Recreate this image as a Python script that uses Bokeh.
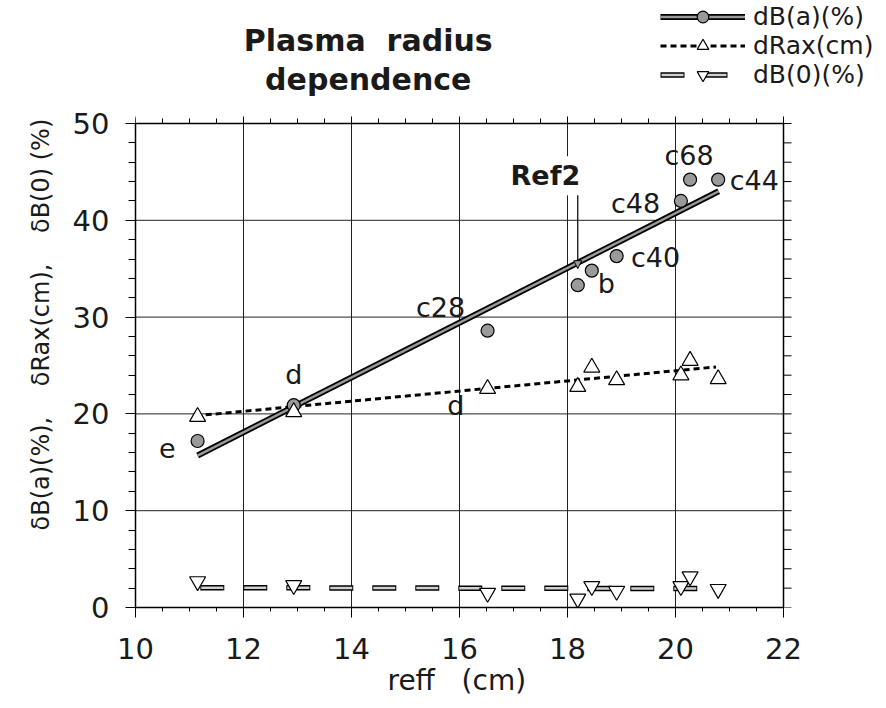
import numpy as np
from bokeh.plotting import figure
from bokeh.models import (Label, Legend, LegendItem, Arrow, NormalHead, Title,
                          Range1d, FixedTicker, ColumnDataSource)
from bokeh.embed import file_html
from bokeh.resources import INLINE

# Field errors versus effective plasma radius, one entry per configuration
config = ["e", "d", "c28", "Ref2", "b", "c40", "c48", "c68", "c44"]
reff = [11.15, 12.93, 16.52, 18.19, 18.45, 18.91, 20.10, 20.27, 20.79]
dB_a = [17.2, 20.9, 28.6, 33.3, 34.8, 36.3, 42.0, 44.2, 44.2]
dRax = [19.7, 20.2, 22.6, 22.8, 24.8, 23.5, 24.0, 25.5, 23.6]
dB_0 = [2.7, 2.3, 1.5, 0.9, 2.2, 1.7, 2.2, 3.2, 1.9]

# Straight-line fits, given by their end points
fit_dB_a_x = [11.15, 20.80]
fit_dB_a_y = [15.7, 43.0]
fit_dRax_x = [11.30, 20.75]
fit_dRax_y = [19.9, 24.85]
fit_dB_0_x = [11.20, 20.80]
fit_dB_0_y = [2.05, 1.95]

# Configuration tags written next to the points
tag_text = ["e", "d", "d", "c28", "b", "c40", "c48", "c68", "c44"]
tag_x = [10.59, 12.93, 15.93, 15.65, 18.72, 19.63, 19.26, 20.25, 21.46]
tag_y = [16.5, 24.1, 20.9, 31.0, 33.5, 36.2, 41.7, 46.7, 44.1]

x_major = [10, 12, 14, 16, 18, 20, 22]
y_major = [0, 10, 20, 30, 40, 50]
x_minor = [10 + 0.5 * i for i in range(25)]
y_minor = list(range(0, 51, 2))

FONT = "DejaVu Sans"
INK = "#1a1a1a"
GREY = "#9a9a9a"
NB = "\u00a0"   # non-collapsing space for the wide word gaps

X0, X1 = x_major[0], x_major[-1]
Y0, Y1 = y_major[0], y_major[-1]
PX_PER_X = 648 / (X1 - X0)          # horizontal scale of the data box
PX_PER_Y = 484 / (Y1 - Y0)          # vertical scale of the data box
X_RIGHT = X1 + 103 / PX_PER_X       # room right of the box for the legend
Y_TOP = Y1 + 123 / PX_PER_Y         # headroom above the box for title and legend

p = figure(width=886, height=708, x_range=Range1d(X0, X_RIGHT), y_range=Range1d(Y0, Y_TOP),
           output_backend="svg", toolbar_location=None,
           min_border_left=135, min_border_right=0, min_border_top=0,
           min_border_bottom=101, background_fill_color="white",
           border_fill_color="white")
p.outline_line_color = None
p.xgrid.visible = False
p.ygrid.visible = False

xt = FixedTicker(ticks=x_major, minor_ticks=x_minor)
yt = FixedTicker(ticks=y_major, minor_ticks=y_minor)


def style_ticks(ax, major_out, minor_out):
    ax.axis_line_color = "black"
    ax.axis_line_width = 1.5
    ax.major_tick_line_color = "black"
    ax.minor_tick_line_color = "black"
    ax.major_tick_in = 0
    ax.major_tick_out = major_out
    ax.minor_tick_in = 0
    ax.minor_tick_out = minor_out
    ax.major_tick_line_width = 1
    ax.minor_tick_line_width = 1
    ax.major_label_text_font = FONT
    ax.major_label_text_font_size = "29px"
    ax.major_label_text_color = INK


xa = p.xaxis[0]
xa.ticker = xt
xa.bounds = (X0, X1)
style_ticks(xa, 10, 4)
xa.major_label_standoff = 20

ya = p.yaxis[0]
ya.ticker = yt
ya.bounds = (Y0, Y1)
style_ticks(ya, 10, 7)
ya.major_label_standoff = 16

# axis titles, placed along the box sides
p.add_layout(Title(text="reff" + NB + " " + NB + "(cm)", align="left", offset=252, standoff=0,
                   text_font=FONT, text_font_size="28px", text_font_style="normal",
                   text_color=INK), "below")
ylab = ("\u03b4B(a)(%)," + NB * 3 + " \u03b4Rax(cm)," + NB * 3 + " \u03b4B(0) (%)")
p.add_layout(Title(text=ylab, align="left", offset=77, standoff=29,
                   text_font=FONT, text_font_size="24px", text_font_style="normal",
                   text_color=INK), "left")

# grid lines at the major ticks
p.segment(x0=x_major[1:-1], y0=Y0, x1=x_major[1:-1], y1=Y1, line_color="#222222", line_width=1)
p.segment(x0=X0, y0=y_major[1:-1], x1=X1, y1=y_major[1:-1], line_color="#222222", line_width=1)

# box edges: right and top
p.segment(x0=[X1, X0], y0=[Y0, Y1], x1=[X1, X1], y1=[Y1, Y1], line_color="black", line_width=1.5)

# outward tick marks along the top and right edges
p.segment(x0=x_major, y0=Y1, x1=x_major, y1=Y1 + 7 / PX_PER_Y, line_color="black", line_width=1)
p.segment(x0=x_minor, y0=Y1, x1=x_minor, y1=Y1 + 5 / PX_PER_Y, line_color="black", line_width=1)
p.segment(x0=X1, y0=y_minor, x1=X1 + 8 / PX_PER_X, y1=y_minor, line_color="black", line_width=1)

# fit lines: dark outline with a grey core
a_out = p.line(fit_dB_a_x, fit_dB_a_y, line_color="black", line_width=6)
a_in = p.line(fit_dB_a_x, fit_dB_a_y, line_color=GREY, line_width=2.5)
r_line = p.line(fit_dRax_x, fit_dRax_y, line_color="black", line_width=3, line_dash="6 4")
z_out = p.line(fit_dB_0_x, fit_dB_0_y, line_color="black", line_width=5.5, line_dash="24 19")
z_in = p.line(fit_dB_0_x, fit_dB_0_y, line_color="#d0d0d0", line_width=2.5, line_dash="22 21",
              line_dash_offset=-1)

src = ColumnDataSource(dict(reff=reff, dB_a=dB_a, dRax=dRax, dB_0=dB_0, config=config))
a_pts = p.scatter("reff", "dB_a", source=src, marker="circle", size=13,
                  fill_color=GREY, line_color="black", line_width=1.2)
r_pts = p.scatter("reff", "dRax", source=src, marker="triangle", size=16,
                  fill_color="white", line_color="black", line_width=1.2)
z_pts = p.scatter("reff", "dB_0", source=src, marker="inverted_triangle", size=16,
                  fill_color="white", line_color="black", line_width=1.2)

for t, x, y in zip(tag_text, tag_x, tag_y):
    p.add_layout(Label(x=x, y=y, text=t, text_font=FONT, text_font_size="27px",
                       text_color=INK, text_align="center", text_baseline="middle"))

# reference configuration marker
p.add_layout(Label(x=17.59, y=44.6, text="Ref2", text_font=FONT,
                   text_font_size="27px", text_font_style="bold", text_color=INK,
                   text_align="center", text_baseline="middle",
                   background_fill_color="white", padding=4))
p.add_layout(Arrow(x_start=18.19, y_start=42.6, x_end=18.19, y_end=35.0,
                   line_color="black", line_width=1.2,
                   end=NormalHead(size=8, fill_color=GREY, line_color="black",
                                  line_width=1)))

# title, two lines above the box
p.add_layout(Label(x=14.31, y=58.57, text="Plasma" + NB + " radius", text_font=FONT,
                   text_font_size="30px", text_font_style="bold", text_color=INK,
                   text_align="center", text_baseline="alphabetic"))
p.add_layout(Label(x=14.31, y=54.55, text="dependence", text_font=FONT,
                   text_font_size="30px", text_font_style="bold", text_color=INK,
                   text_align="center", text_baseline="alphabetic"))

legend = Legend(items=[
    LegendItem(label="dB(a)(%)", renderers=[a_out, a_in, a_pts]),
    LegendItem(label="dRax(cm)", renderers=[r_line, r_pts]),
    LegendItem(label="dB(0)(%)", renderers=[z_out, z_in, z_pts]),
], location=(525, 518), orientation="vertical", glyph_width=85, glyph_height=29,
    label_height=29, spacing=0, padding=0, margin=0, label_standoff=8,
    label_text_font=FONT, label_text_font_size="25px", label_text_color=INK,
    border_line_color=None, background_fill_alpha=0)
p.add_layout(legend, "center")

open("out.html", "w").write(file_html(p, INLINE))
